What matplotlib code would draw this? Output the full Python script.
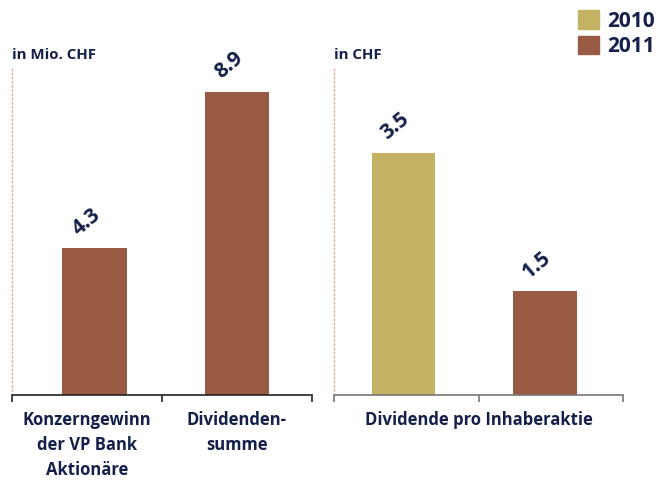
import matplotlib.pyplot as plt
from matplotlib.patches import Patch

# data
left_cats = ["Konzerngewinn\nder VP Bank\nAktionäre", "Dividenden-\nsumme"]
left_values = [4.3, 8.9]
right_cat = "Dividende pro Inhaberaktie"
right_years = ["2010", "2011"]
right_values = [3.5, 1.5]

gold = "#c4b264"
brown = "#985a43"
navy = "#14204a"
dotted = "#e0b0a4"

plt.rcParams["font.family"] = ["Open Sans", "DejaVu Sans"]

fig = plt.figure(figsize=(6.64, 4.8), dpi=100)
ax1 = fig.add_axes([12 / 664, 0.1777, 300 / 664, 0.6827])
ax2 = fig.add_axes([334 / 664, 0.1777, 289 / 664, 0.6827])


def style(ax, ymax, base_color):
    ax.set_xlim(0, 2)
    ax.set_ylim(0, ymax)
    for s in ["top", "right"]:
        ax.spines[s].set_visible(False)
    ax.spines["left"].set_linestyle((0, (1, 2)))
    ax.spines["left"].set_color(dotted)
    ax.spines["left"].set_linewidth(1.0)
    ax.spines["bottom"].set_color(base_color)
    ax.spines["bottom"].set_linewidth(1.2)
    ax.spines["bottom"].set_zorder(5)
    ax.set_yticks([])
    ax.set_xticks([0, 1, 2])
    ax.set_xticklabels([])
    ax.tick_params(axis="x", length=5, width=1.2, color=base_color)


def value_labels(ax, xs, vals):
    for x, v in zip(xs, vals):
        ax.annotate(f"{v:.1f}", (x, v), xytext=(-6, 19), textcoords="offset points",
                    ha="center", va="center", rotation=40, fontsize=15,
                    fontweight="bold", color=navy)


# left panel
style(ax1, 9.635, "#222222")
x1 = [0.55, 1.5]
ax1.bar(x1, left_values, width=0.43, color=brown)
value_labels(ax1, x1, left_values)
for x, lab in zip([0.5, 1.5], left_cats):
    ax1.text(x, -0.05, lab, transform=ax1.get_xaxis_transform(), ha="center", va="top",
             fontsize=12, fontweight="bold", color=navy, linespacing=1.5)
ax1.text(0.0, 1.037, "in Mio. CHF", transform=ax1.transAxes, ha="left", va="center",
         fontsize=10.8, fontweight="bold", color=navy)

# right panel
style(ax2, 4.74, "#777777")
x2 = [0.48, 1.46]
ax2.bar(x2, right_values, width=0.44, color=[gold, brown])
value_labels(ax2, x2, right_values)
ax2.text(1.0, -0.05, right_cat, transform=ax2.get_xaxis_transform(), ha="center", va="top",
         fontsize=12, fontweight="bold", color=navy)
ax2.text(0.0, 1.037, "in CHF", transform=ax2.transAxes, ha="left", va="center",
         fontsize=10.8, fontweight="bold", color=navy)

handles = [Patch(color=gold, label=right_years[0]), Patch(color=brown, label=right_years[1])]
leg = fig.legend(handles=handles, loc="upper right", bbox_to_anchor=(1.015, 1.018), frameon=False,
                 handlelength=1.0, handleheight=1.0, handletextpad=0.4, labelspacing=0.2,
                 prop={"size": 15, "weight": "bold"})
for t in leg.get_texts():
    t.set_color(navy)

fig.savefig("out.png", dpi=100)
